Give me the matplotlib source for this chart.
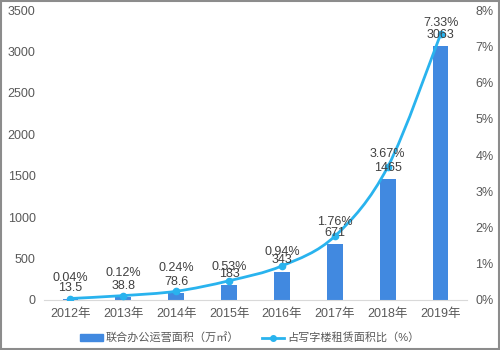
import numpy as np
import matplotlib
matplotlib.use('Agg')
from matplotlib import pyplot as plt
from matplotlib.path import Path
from matplotlib.patches import PathPatch, Rectangle
from matplotlib.lines import Line2D

plt.rcParams['font.family'] = ['Liberation Sans', 'Noto Sans CJK SC', 'DejaVu Sans']

years = ['2012年', '2013年', '2014年', '2015年', '2016年', '2017年', '2018年', '2019年']
area = [13.5, 38.8, 78.6, 183, 343, 671, 1465, 3063]
area_labels = ['13.5', '38.8', '78.6', '183', '343', '671', '1465', '3063']
share = [0.04, 0.12, 0.24, 0.53, 0.94, 1.76, 3.67, 7.33]

bar_color = '#4189E0'
line_color = '#29B3EE'
text_color = '#595959'

# label lift above each line point, in points (first three pushed up to clear the bar labels)
pct_lift = [14.5, 16.5, 17, 10, 10, 10, 9.5, 8.5]


def smooth_path(xs, ys, k=0.5):
    # catmull-rom style bezier through the points
    pts = np.column_stack([xs, ys]).astype(float)
    verts = [pts[0]]
    codes = [Path.MOVETO]
    n = len(pts)
    for i in range(n - 1):
        p0 = pts[i - 1] if i > 0 else pts[i]
        p1 = pts[i]
        p2 = pts[i + 1]
        p3 = pts[i + 2] if i + 2 < n else pts[i + 1]
        c1 = p1 + (p2 - p0) * k / 3
        c2 = p2 - (p3 - p1) * k / 3
        verts += [c1, c2, p2]
        codes += [Path.CURVE4] * 3
    return Path(verts, codes)


fig = plt.figure(figsize=(5, 3.5), dpi=100)
ax = fig.add_axes([0.088, 0.143, 0.846, 0.828])
x = np.arange(len(years))

ax.bar(x, area, width=0.3, color=bar_color, zorder=2)
ax.set_ylim(0, 3500)
ax.set_yticks(range(0, 3501, 500))
ax.set_xlim(-0.5, 7.5)
ax.set_xticks(x)
ax.set_xticklabels(years)

ax2 = ax.twinx()
ax2.set_ylim(0, 8)
ax2.set_yticks(range(0, 9))
ax2.set_yticklabels(['%d%%' % v for v in range(0, 9)])
ax2.add_patch(PathPatch(smooth_path(x, share), facecolor='none',
                        edgecolor=line_color, lw=2, zorder=3))
ax2.plot(x, share, 'o', color=line_color, ms=4.5, zorder=4)

# bar values sit just over the bars, shares just over the line points
for xi, a, lab in zip(x, area, area_labels):
    ax2.annotate(lab, (xi, a * 8 / 3500), xytext=(0, 8),
                 textcoords='offset points', ha='center', va='center',
                 fontsize=9, color='#404040', zorder=5)
for xi, s, lift in zip(x, share, pct_lift):
    ax2.annotate('%.2f%%' % s, (xi, s), xytext=(0, lift),
                 textcoords='offset points', ha='center', va='center',
                 fontsize=9, color='#404040', zorder=5)

for a in (ax, ax2):
    for sp in a.spines.values():
        sp.set_visible(False)
    a.tick_params(length=0, labelsize=9, colors=text_color)
ax.spines['bottom'].set_visible(True)
ax.spines['bottom'].set_color('#D9D9D9')
ax.tick_params(axis='y', pad=6)
ax.tick_params(axis='x', pad=6)
ax2.tick_params(axis='y', pad=6)

handles = [Rectangle((0, 0), 1, 1, color=bar_color),
           Line2D([0], [0], color=line_color, lw=2, marker='o', ms=4)]
fig.legend(handles, ['联合办公运营面积（万㎡）', '占写字楼租赁面积比（%）'],
           loc='center', bbox_to_anchor=(0.5, 0.035), ncol=2, frameon=False,
           fontsize=8, labelcolor=text_color, handlelength=2.0,
           handleheight=0.6, columnspacing=2.0, handletextpad=0.3)

fig.add_artist(Rectangle((0.002, 0.003), 0.996, 0.994, transform=fig.transFigure,
                         fill=False, edgecolor='#8C8C8C', lw=1.5))

fig.savefig('out.png', dpi=100)
